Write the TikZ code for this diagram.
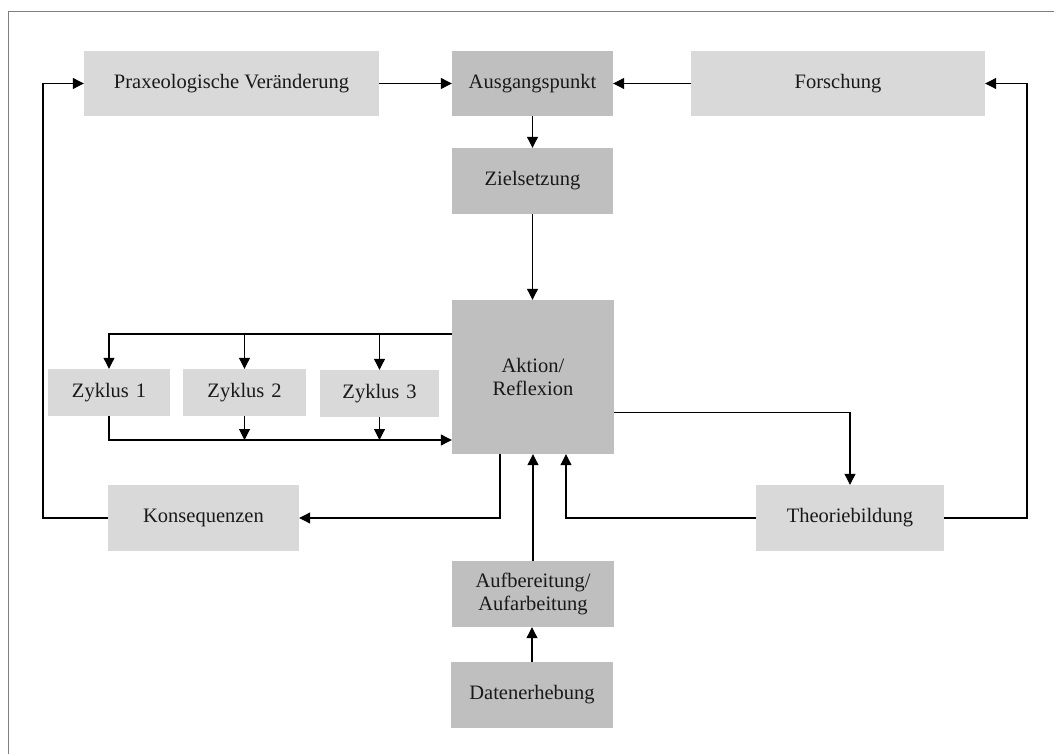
\documentclass[tikz,border=0pt]{standalone}
\usepackage{fontspec}
\setmainfont{Liberation Serif}
\usetikzlibrary{arrows.meta}
\definecolor{boxlight}{HTML}{D9D9D9}
\definecolor{boxdark}{HTML}{BFBFBF}
\definecolor{framegray}{HTML}{7F7F7F}
\begin{document}
\begin{tikzpicture}[x=1pt,y=-1pt,
  box/.style={inner sep=0pt, align=center, text=black!90,
    font=\fontsize{20.5}{22.5}\selectfont},
  lightbox/.style={box, fill=boxlight},
  darkbox/.style={box, fill=boxdark},
  conn/.style={draw=black, line width=1.1pt,
    -{Triangle[length=11pt,width=11pt]}}]
\useasboundingbox (0,0) rectangle (1054,754);
% outer frame, only its top and left edges fall on the page
\draw[framegray, line width=1.3pt] (8.5,770) -- (8.5,11.7) -- (1070,11.7);

% top row
\node[lightbox, minimum width=295pt, minimum height=65pt] (prax)   at (231.5,83.5) {Praxeologische Veränderung};
\node[darkbox,  minimum width=161pt, minimum height=65pt] (ausg)   at (532.5,83.5) {Ausgangspunkt};
\node[lightbox, minimum width=294pt, minimum height=65pt] (forsch) at (838,83.5)   {Forschung};
% centre column
\node[darkbox,  minimum width=161pt, minimum height=66pt]  (ziel)   at (532.5,181) {Zielsetzung};
\node[darkbox,  minimum width=162pt, minimum height=154pt] (aktion) at (533,377)   {Aktion/\\Reflexion};
\node[darkbox,  minimum width=162pt, minimum height=66pt]  (aufb)   at (533,594)   {Aufbereitung/\\Aufarbeitung};
\node[darkbox,  minimum width=162pt, minimum height=66pt]  (daten)  at (532,695)   {Datenerhebung};
% cycles
\node[lightbox, minimum width=122pt, minimum height=47pt] (z1) at (109,392.5)   {Zyklus\,\,1};
\node[lightbox, minimum width=123pt, minimum height=47pt] (z2) at (244.5,392.5) {Zyklus\,\,2};
\node[lightbox, minimum width=119pt, minimum height=47pt] (z3) at (379.5,393.5) {Zyklus\,\,3};
% lower row
\node[lightbox, minimum width=191pt, minimum height=66pt] (kons) at (203.5,518) {Konsequenzen};
\node[lightbox, minimum width=188pt, minimum height=66pt] (theo) at (850,518)   {Theoriebildung};

% helper coordinates for the routed connectors
\coordinate (branch) at (0,334);
\coordinate (merge)  at (0,440);
\coordinate (right)  at (0,412.7);
\coordinate (kx)     at (500,0);
\coordinate (tx)     at (566,0);
\coordinate (lx)     at (43,0);
\coordinate (rx)     at (1027,0);

% top row and centre column
\draw[conn] (prax.east) -- (ausg.west);
\draw[conn] (forsch.west) -- (ausg.east);
\draw[conn] (ausg.south) -- (ausg.south |- ziel.north);
\draw[conn] (ziel.south) -- (ziel.south |- aktion.north);
\draw[conn] (aufb.north) -- (aufb.north |- aktion.south);
\draw[conn] (daten.north) -- (daten.north |- aufb.south);

% cycles out of and back into Aktion/Reflexion
\draw[conn] (aktion.west |- branch) -| (z1.north);
\draw[conn] (z2.north |- branch) -- (z2.north);
\draw[conn] (z3.north |- branch) -- (z3.north);
\draw[conn] (z1.south) |- (aktion.west |- merge);
\draw[conn] (z2.south) -- (z2.south |- merge);
\draw[conn] (z3.south) -- (z3.south |- merge);

% consequences loop back to praxeological change
\draw[conn] (aktion.south -| kx) |- (kons.east);
\draw[conn] (kons.west) -- (kons.west -| lx) |- (prax.west);

% theory building
\draw[conn] (aktion.east |- right) -| (theo.north);
\draw[conn] (theo.west) -| (aktion.south -| tx);
\draw[conn] (theo.east) -- (theo.east -| rx) |- (forsch.east);
\end{tikzpicture}
\end{document}
